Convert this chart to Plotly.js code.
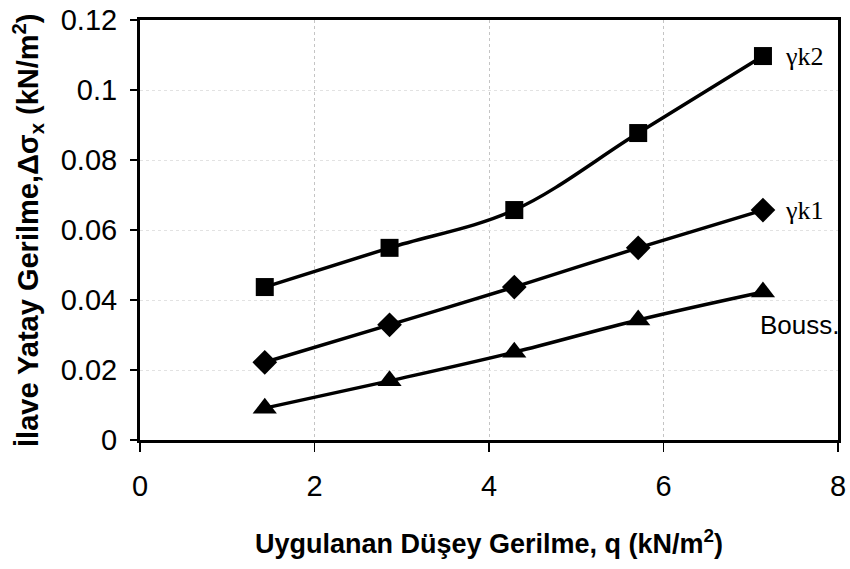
<!DOCTYPE html>
<html>
<head>
<meta charset="utf-8">
<script src="https://cdn.plot.ly/plotly-3.0.1.min.js"></script>
<style>html,body{margin:0;padding:0;background:#fff;}#chart{width:850px;height:569px;}</style>
</head>
<body>
<div id="chart"></div>
<script>
// Data
var q = [1.43, 2.86, 4.29, 5.71, 7.14];
var gammaK2 = [0.0437, 0.0549, 0.0657, 0.0877, 0.1097];
var gammaK1 = [0.0222, 0.0329, 0.0437, 0.0549, 0.0657];
var bouss   = [0.0091, 0.0169, 0.0251, 0.0343, 0.0423];
var seriesNames = ['γk2', 'γk1', 'Bouss.'];
var xTicks = [0, 2, 4, 6, 8];
var yTicks = [0, 0.02, 0.04, 0.06, 0.08, 0.1, 0.12];
var yTickText = ['0', '0.02', '0.04', '0.06', '0.08', '0.1', '0.12'];
var xTitle = 'Uygulanan Düşey Gerilme, q (kN/m<sup>2</sup>)';
var yTitle = 'İlave Yatay Gerilme,Δσ<sub>x</sub> (kN/m<sup>2</sup>)';

function series(y, sym, size, name) {
  return {
    x: q, y: y, name: name, type: 'scatter', mode: 'lines+markers',
    line: {color: '#000', width: 3.5, shape: 'spline', smoothing: 1},
    marker: {symbol: sym, size: size, color: '#000'},
    cliponaxis: false
  };
}

var data = [
  series(gammaK2, 'square', 18, seriesNames[0]),
  series(gammaK1, 'diamond', 19, seriesNames[1]),
  series(bouss, 'triangle-up', 21, seriesNames[2])
];

var sans = 'Liberation Sans, Arial, sans-serif';
var serif = 'Liberation Serif, Times New Roman, serif';
var last = q.length - 1;
var layout = {
  width: 850, height: 569,
  margin: {l: 140, r: 12, t: 20, b: 129},
  paper_bgcolor: '#fff', plot_bgcolor: '#fff',
  showlegend: false,
  font: {family: sans, color: '#000'},
  xaxis: {
    range: [0, 8], tickvals: xTicks, ticktext: xTicks.map(String),
    ticks: 'outside', ticklen: 9, tickwidth: 1.5, tickcolor: '#000',
    ticklabelstandoff: 9,
    showline: true, linecolor: '#000', linewidth: 3, mirror: true,
    showgrid: true, gridcolor: '#c4c4c4', gridwidth: 1, griddash: 'dot',
    zeroline: false,
    tickfont: {size: 29, family: sans},
    title: {text: xTitle, font: {size: 27, family: sans, weight: 'bold'}, standoff: 34}
  },
  yaxis: {
    range: [0, 0.12], tickvals: yTicks, ticktext: yTickText,
    ticks: 'outside', ticklen: 7, tickwidth: 1.5, tickcolor: '#000',
    ticklabelstandoff: 7,
    showline: true, linecolor: '#000', linewidth: 3, mirror: true,
    showgrid: true, gridcolor: '#e2e2e2', gridwidth: 1, griddash: 'dot',
    zeroline: false,
    tickfont: {size: 29, family: sans}
  },
  annotations: [
    {x: -0.1605, y: 0.5, xref: 'paper', yref: 'paper', text: yTitle, textangle: -90,
     showarrow: false, xanchor: 'center', yanchor: 'middle',
     font: {size: 29, family: sans, weight: 'bold'}},
    {x: q[last], y: gammaK2[last], xref: 'x', yref: 'y', text: seriesNames[0],
     showarrow: false, xanchor: 'left', xshift: 20,
     font: {family: serif, size: 26}},
    {x: q[last], y: gammaK1[last], xref: 'x', yref: 'y', text: seriesNames[1],
     showarrow: false, xanchor: 'left', xshift: 20,
     font: {family: serif, size: 26}},
    {x: q[last], y: bouss[last], xref: 'x', yref: 'y', text: seriesNames[2],
     showarrow: false, xanchor: 'left', xshift: -5, yshift: -33,
     font: {family: sans, size: 26}}
  ]
};

Plotly.newPlot('chart', data, layout, {displayModeBar: false, staticPlot: true});
</script>
</body>
</html>
